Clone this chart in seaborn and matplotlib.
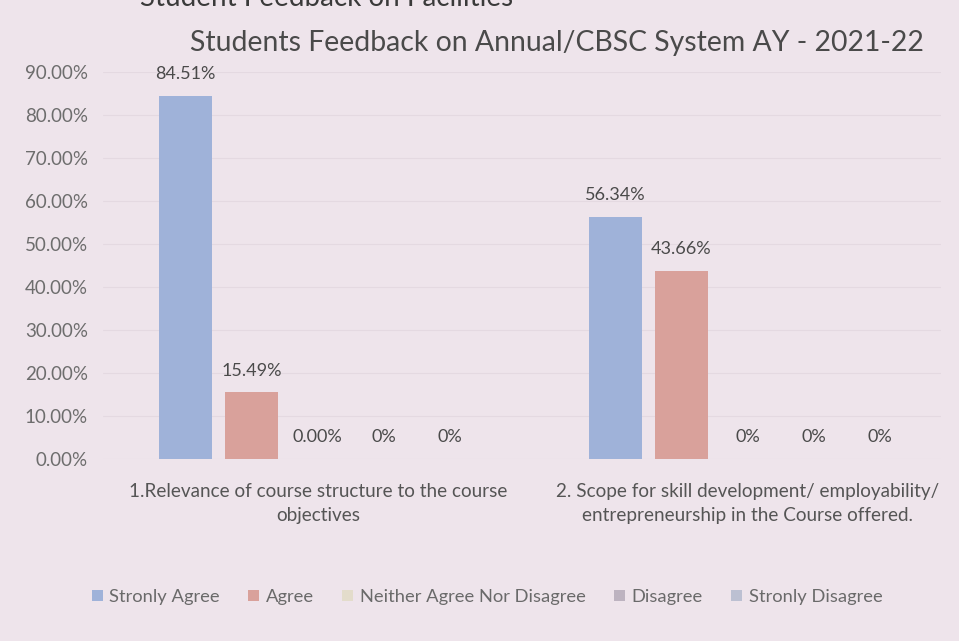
import matplotlib
matplotlib.use("Agg")
import matplotlib.pyplot as plt
import seaborn as sns
import pandas as pd
from matplotlib.ticker import PercentFormatter

categories = ["1.Relevance of course structure to the course\nobjectives",
              "2. Scope for skill development/ employability/\nentrepreneurship in the Course offered."]
series = ["Stronly Agree", "Agree", "Neither Agree Nor Disagree", "Disagree", "Stronly Disagree"]
strongly_agree = [0.8451, 0.5634]
agree = [0.1549, 0.4366]
neither = [0.0, 0.0]
disagree = [0.0, 0.0]
strongly_disagree = [0.0, 0.0]
label_text = {
    "Stronly Agree": ["84.51%", "56.34%"],
    "Agree": ["15.49%", "43.66%"],
    "Neither Agree Nor Disagree": ["0.00%", "0%"],
    "Disagree": ["0%", "0%"],
    "Stronly Disagree": ["0%", "0%"],
}
yticks = [0.0, 0.1, 0.2, 0.3, 0.4, 0.5, 0.6, 0.7, 0.8, 0.9]

values = [strongly_agree, agree, neither, disagree, strongly_disagree]
rows = []
for s, vals in zip(series, values):
    for c, v in zip(categories, vals):
        rows.append({"Category": c, "Response": s, "Value": v})
df = pd.DataFrame(rows)

bg = "#eee4eb"
sns.set_theme(style="white")
plt.rcParams["font.family"] = ["Lato", "DejaVu Sans"]

fig = plt.figure(figsize=(9.59, 6.41), dpi=100, facecolor=bg)
ax = fig.add_axes([103/959, 1-459/641, 838/959, (459-72)/641])
ax.set_facecolor(bg)

palette = ["#9fb2d9", "#d9a19b", "#e3dccb", "#bdb3c0", "#bcc0d2"]
sns.barplot(data=df, x="Category", y="Value", hue="Response", order=categories,
            hue_order=series, palette=palette, width=0.77, gap=0.2,
            saturation=1, ax=ax, legend=True, edgecolor="none", linewidth=0)

for cont, s in zip(ax.containers, series):
    ax.bar_label(cont, labels=label_text[s], padding=10, fontsize=13, color="#4a4a4a")

ax.set_ylim(0, 0.9)
ax.set_xlim(-0.5, 1.45)
ax.set_yticks(yticks)
ax.yaxis.set_major_formatter(PercentFormatter(1.0, decimals=2))
ax.tick_params(axis="y", labelsize=13.5, labelcolor="#6d6d6d", length=0, pad=11)
ax.tick_params(axis="x", labelsize=13.6, labelcolor="#555555", length=0, pad=17)
ax.set_xlabel("")
ax.set_ylabel("")
ax.grid(axis="y", color="#e4d9e1", linewidth=0.8)
ax.set_axisbelow(True)
for sp in ax.spines.values():
    sp.set_visible(False)
for lbl in ax.get_xticklabels():
    lbl.set_linespacing(1.5)

fig.text(557/959, 1-43/641, "Students Feedback on Annual/CBSC System AY - 2021-22",
         fontsize=20.4, color="#4a4a4a", ha="center", va="center")
fig.text(140/959, 1.003, "Student Feedback on Facilities", fontsize=20,
         color="#3a3a3a", va="center", ha="left")

leg = ax.legend(loc="center", bbox_to_anchor=(0.508, 1-597/641), bbox_transform=fig.transFigure,
                ncol=5, frameon=False, fontsize=13.2, handlelength=0.6, handleheight=0.6,
                columnspacing=1.55, handletextpad=0.35)
for t in leg.get_texts():
    t.set_color("#6a6a6a")

fig.savefig("out.png", dpi=100, facecolor=bg)
